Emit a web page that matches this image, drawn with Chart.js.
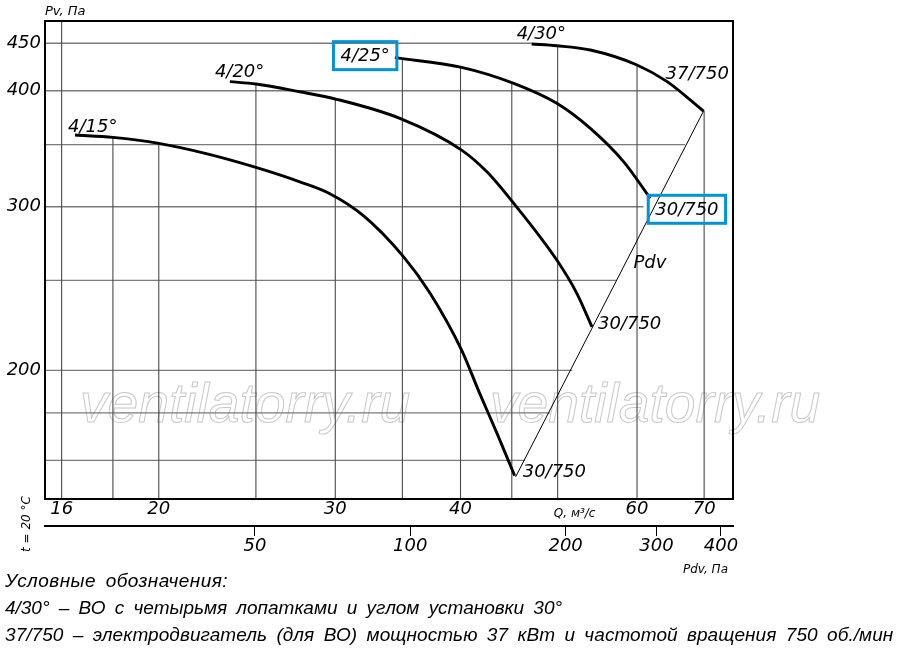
<!DOCTYPE html>
<html><head><meta charset="utf-8">
<script src="https://cdn.jsdelivr.net/npm/chart.js@4/dist/chart.umd.min.js"></script>
<style>
html,body{margin:0;padding:0;background:#fff;}
#wrap{position:relative;width:900px;height:655px;overflow:hidden;background:#fff;}
#c{position:absolute;left:0;top:0;}
#legend{position:absolute;left:5px;top:567px;font-style:italic;font-size:19px;line-height:27px;font-family:'Liberation Sans',Arial,sans-serif;color:#000;white-space:nowrap;}
#legend span{display:inline-block;word-spacing:4px;}
</style></head>
<body><div id="wrap"><canvas id="c" width="900" height="655"></canvas>
<div id="legend"><span data-w="223">Условные обозначения:</span><br><span data-w="557">4/30° – ВО с четырьмя лопатками и углом установки 30°</span><br><span data-w="888">37/750 – электродвигатель (для ВО) мощностью 37 кВт и частотой вращения 750 об./мин</span></div>
</div>
<script>
// ---- axis ranges and ticks ----
const qMin = 15.4, qMax = 74.8;
const pvMin = 145.4, pvMax = 475.5;
const pdvMin = 19.6, pdvMax = 422;
const qTicks = [16, 20, 30, 40, 60, 70];
const pvTicks = [200, 300, 400, 450];
const pdvTicks = [50, 100, 200, 300, 400];

// ---- grid lines (clipped by the working envelope) ----
const qGrid    = [16, 18, 20, 25, 30, 35, 40, 45, 50, 60, 70];
const qGridTop = [475.5, 356, 351, 407, 391, 433, 424, 407, 447, 426, 381];
const pvGrid    = [160, 180, 200, 250, 300, 350, 400, 450];
const pvGridEnd = [46.4, 49.1, 51.7, 57.3, 60.9, 67.0, 65.8, 47.1];

// ---- characteristic curves (Q m3/s, Pv Pa) ----
const q15  = [16.5, 18.0, 20.0, 22.3, 25.0, 27.65, 29.6, 32.0, 35.1, 37.3, 40.1, 41.8, 43.5, 45.3];
const pv15 = [358.4, 356.3, 351.1, 342.3, 330.8, 319.2, 310.1, 293.5, 265.0, 242.1, 210.3, 188.9, 171.1, 154];
const q20  = [23.55, 25.0, 27.65, 30.1, 34.8, 40.1, 42.5, 45.2, 49.9, 52.25, 54.1];
const pv20 = [409.1, 406.8, 399.0, 391.6, 373.5, 345.3, 327.2, 302.6, 262.9, 242.1, 222.8];
const q25  = [34.4, 40.1, 45.2, 49.9, 53.9, 58.2, 61.85];
const pv25 = [434.2, 423.9, 407.4, 387.8, 364.4, 335.4, 306.4];
const q30  = [47.1, 49.9, 53.9, 60.0, 64.3, 69.9];
const pv30 = [449.1, 447.2, 442.5, 426.4, 409.1, 380.3];
const qPdv  = [45.4, 69.9];
const pvPdv = [153.6, 380.3];

const curveNames = ['4/15°', '4/20°', '4/25°', '4/30°'];
const curveQ = [q15, q20, q25, q30];
const curvePv = [pv15, pv20, pv25, pv30];

const zip = (a, b) => a.map((v, i) => ({x: v, y: b[i]}));
const NUM_FONT = "'DejaVu Sans', 'Liberation Sans', sans-serif";

const datasets = [];
curveQ.forEach((qs, i) => {
  datasets.push({label: curveNames[i], data: zip(qs, curvePv[i]), borderColor: '#000', borderWidth: 2.9,
    pointRadius: 0, fill: false, cubicInterpolationMode: 'monotone', order: 0});
});
datasets.push({label: 'Pdv', data: zip(qPdv, pvPdv), borderColor: '#000', borderWidth: 1, pointRadius: 0, fill: false, order: 1});
qGrid.forEach((q, i) => {
  datasets.push({label: 'gq' + q, data: [{x: q, y: qGridTop[i]}, {x: q, y: pvMin}], borderColor: '#4a4a4a', borderWidth: 1.1,
    pointRadius: 0, fill: false, order: 10});
});
pvGrid.forEach((p, i) => {
  datasets.push({label: 'gp' + p, data: [{x: qMin, y: p}, {x: pvGridEnd[i], y: p}], borderColor: '#7a7a7a', borderWidth: 1.4,
    pointRadius: 0, fill: false, order: 10});
});

// label placement relative to curve ends (pixel offsets)
const curveLabels = [
  {text: '4/15°', curve: 0, at: 'start', dx: -7, dy: -3, base: 'alphabetic', align: 'left'},
  {text: '4/20°', curve: 1, at: 'start', dx: -15, dy: -5, base: 'alphabetic', align: 'left'},
  {text: '4/25°', curve: 2, at: 'start', dx: -5, dy: -1, base: 'middle', align: 'right', box: true},
  {text: '4/30°', curve: 3, at: 'start', dx: -15, dy: -5, base: 'alphabetic', align: 'left'},
  {text: '37/750', curve: 3, at: 'end', dx: -38, dy: -32, base: 'alphabetic', align: 'left'},
  {text: '30/750', curve: 2, at: 'end', dx: 5, dy: 12, base: 'middle', align: 'left', box: true},
  {text: '30/750', curve: 1, at: 'end', dx: 6, dy: -2, base: 'middle', align: 'left'},
  {text: '30/750', curve: 0, at: 'end', dx: 8, dy: -3, base: 'middle', align: 'left'}
];
const pdvLabel = {text: 'Pdv', q: 59.5, pv: 261};

const decor = {
  id: 'decor',
  beforeDatasetsDraw(chart) {
    const ctx = chart.ctx, a = chart.chartArea;
    ctx.save();
    ctx.font = "italic 54px 'Liberation Sans', Arial, sans-serif";
    const w = ctx.measureText('ventilatorry.ru').width;
    const size = 54 * 330 / w;
    ctx.font = "italic " + size.toFixed(1) + "px 'Liberation Sans', Arial, sans-serif";
    ctx.strokeStyle = '#c8c8c8';
    ctx.lineWidth = 1;
    ctx.textBaseline = 'alphabetic';
    ctx.strokeText('ventilatorry.ru', a.left + 35, 422);
    ctx.strokeText('ventilatorry.ru', a.left + 445, 422);
    ctx.restore();
  },
  afterDatasetsDraw(chart) {
    const ctx = chart.ctx, a = chart.chartArea;
    const xs = chart.scales.x, ys = chart.scales.y;
    ctx.save();
    ctx.fillStyle = '#000';
    ctx.font = "italic 18px " + NUM_FONT;
    curveLabels.forEach(l => {
      const qs = curveQ[l.curve], ps = curvePv[l.curve];
      const idx = l.at === 'start' ? 0 : qs.length - 1;
      const px = xs.getPixelForValue(qs[idx]) + l.dx;
      const py = ys.getPixelForValue(ps[idx]) + l.dy;
      ctx.textAlign = l.align;
      ctx.textBaseline = l.base;
      ctx.fillText(l.text, px, py);
      if (l.box) {
        const w = ctx.measureText(l.text).width;
        const left = l.align === 'right' ? px - w : px;
        const cy = l.base === 'middle' ? py : py - 7;
        ctx.save();
        ctx.strokeStyle = 'rgb(0,146,221)';
        ctx.lineWidth = 3;
        ctx.strokeRect(left - 7, cy - 15, w + 14, 28);
        ctx.restore();
      }
    });
    ctx.textAlign = 'left';
    ctx.textBaseline = 'middle';
    ctx.fillText(pdvLabel.text, xs.getPixelForValue(pdvLabel.q), ys.getPixelForValue(pdvLabel.pv));

    // axis captions
    ctx.font = "italic 13px " + NUM_FONT;
    ctx.textBaseline = 'alphabetic';
    ctx.textAlign = 'left';
    ctx.fillText('Pv, Па', a.left, 15);
    ctx.font = "italic 12px " + NUM_FONT;
    ctx.textAlign = 'center';
    ctx.fillText('Q, м³/с', xs.getPixelForValue(50) + 17, 517);
    ctx.textAlign = 'right';
    ctx.fillText('Pdv, Па', a.right - 5, 573);
    ctx.save();
    ctx.translate(30, 552);
    ctx.rotate(-Math.PI / 2);
    ctx.textAlign = 'left';
    ctx.fillText('t = 20 °C', 0, 0);
    ctx.restore();

    // frame
    ctx.strokeStyle = '#000';
    ctx.lineWidth = 2;
    ctx.strokeRect(a.left, a.top, a.right - a.left, a.bottom - a.top);
    ctx.restore();
  }
};

const tickFont = {family: NUM_FONT, size: 18, style: 'italic'};

new Chart(document.getElementById('c'), {
  type: 'line',
  data: {datasets},
  options: {
    responsive: false,
    animation: false,
    layout: {padding: {left: 0, top: 21, right: 167, bottom: 74}},
    plugins: {legend: {display: false}, tooltip: {enabled: false}},
    scales: {
      x: {
        type: 'logarithmic', position: 'bottom', weight: 1, min: qMin, max: qMax,
        afterBuildTicks: s => { s.ticks = qTicks.map(v => ({value: v})); },
        afterFit: s => { s.height = 27; },
        grid: {display: false, drawTicks: false},
        border: {display: true, color: '#000', width: 2},
        ticks: {autoSkip: false, maxRotation: 0, padding: 0, color: '#000', font: tickFont, callback: v => String(v)}
      },
      pdv: {
        type: 'logarithmic', axis: 'x', position: 'bottom', weight: 2, min: pdvMin, max: pdvMax,
        afterBuildTicks: s => { s.ticks = pdvTicks.map(v => ({value: v})); },
        afterFit: s => { s.height = 55; },
        grid: {display: true, drawOnChartArea: false, drawTicks: true, tickLength: 10, color: '#000', lineWidth: 1},
        border: {display: true, color: '#000', width: 2},
        ticks: {autoSkip: false, maxRotation: 0, padding: 0, color: '#000', font: tickFont, callback: v => String(v)}
      },
      y: {
        type: 'logarithmic', position: 'left', min: pvMin, max: pvMax,
        afterBuildTicks: s => { s.ticks = pvTicks.map(v => ({value: v})); },
        afterFit: s => { s.width = 45; },
        grid: {display: false, drawTicks: false},
        border: {display: true, color: '#000', width: 2},
        ticks: {autoSkip: false, padding: 4, color: '#000', font: tickFont, callback: v => String(v)}
      }
    }
  },
  plugins: [decor]
});

// fit legend lines to the reference widths
document.querySelectorAll('#legend span').forEach(sp => {
  const target = +sp.dataset.w;
  const w = sp.getBoundingClientRect().width;
  const n = sp.textContent.length;
  sp.style.letterSpacing = ((target - w) / n).toFixed(2) + 'px';
});
</script>
</body></html>
